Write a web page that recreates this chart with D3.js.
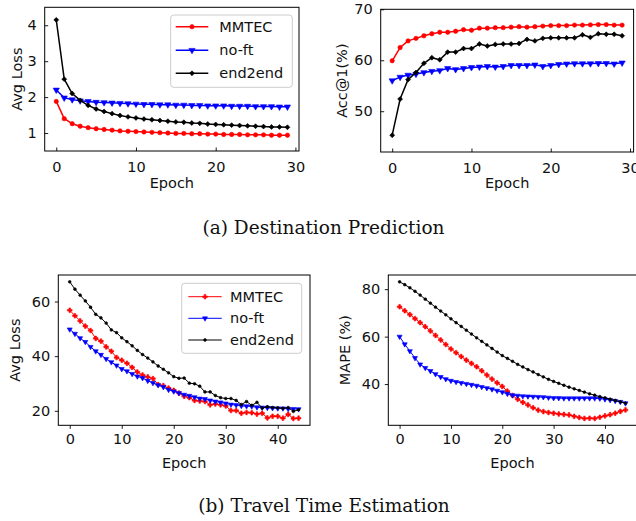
<!DOCTYPE html>
<html>
<head>
<meta charset="utf-8">
<script src="https://cdn.jsdelivr.net/npm/d3@7"></script>
<style>
  body { margin: 0; background: #fff; }
  svg { display: block; font-family: "DejaVu Sans", sans-serif; }
  .caption { font-family: "DejaVu Serif", serif; }
</style>
</head>
<body>
<svg id="chart" width="636" height="521"></svg>
<script>
// ---- data ----
const seriesNames = [ 'MMTEC', 'no-ft', 'end2end' ]

const destLossMMTEC = [1.88,1.40,1.26,1.19,1.15,1.12,1.10,1.08,1.06,1.05,1.04,1.03,1.02,1.01,1.00,0.99,0.99,0.98,0.98,0.97,0.97,0.96,0.96,0.96,0.95,0.95,0.95,0.94,0.94,0.94]
const destLossNoFt  = [2.20,1.98,1.93,1.90,1.88,1.86,1.85,1.84,1.83,1.82,1.81,1.80,1.80,1.79,1.79,1.78,1.78,1.77,1.77,1.76,1.76,1.76,1.75,1.75,1.75,1.74,1.74,1.74,1.73,1.73]
const destLossE2E   = [4.15,2.50,2.10,1.91,1.77,1.67,1.60,1.54,1.49,1.45,1.42,1.39,1.37,1.35,1.33,1.31,1.30,1.28,1.27,1.25,1.24,1.23,1.22,1.21,1.20,1.19,1.18,1.17,1.17,1.16]

const destAccMMTEC = [59.9,62.5,63.8,64.3,64.8,65.2,65.5,65.5,65.7,66.0,65.9,66.3,66.3,66.4,66.4,66.5,66.6,66.5,66.6,66.7,66.8,66.8,66.8,66.9,66.9,66.95,67.0,67.0,66.9,66.9]
const destAccNoFt  = [56.0,56.7,57.1,57.3,57.6,57.85,58.0,58.4,58.2,58.4,58.6,58.7,58.8,58.7,58.8,59.0,59.0,59.0,59.1,58.8,59.0,59.2,59.3,59.35,59.35,59.35,59.4,59.4,59.3,59.5]
const destAccE2E   = [45.3,52.4,56.2,57.6,59.4,60.5,60.1,61.6,61.6,62.3,62.3,63.2,62.8,63.1,63.2,63.2,63.3,64.1,63.8,64.3,64.4,64.4,64.4,64.4,65.0,64.5,65.2,65.1,65.1,64.8]

const tteLossMMTEC = [56.8,54.8,52.9,51.0,49.4,46.5,45.5,43.4,41.8,39.5,38.5,37.4,35.9,34.2,33.1,32.4,31.8,29.6,29.2,28.3,27.5,26.5,25.3,24.8,23.8,23.6,23.4,22.2,22.5,22.2,21.8,20.1,20.1,19.1,19.4,19.3,18.8,19.1,17.4,18.0,18.0,17.3,18.7,17.2,17.3]
const tteLossNoFt  = [49.8,48.2,46.6,45.2,43.4,41.8,40.5,39.0,37.8,36.6,35.3,34.5,33.5,32.6,32.0,31.0,30.2,29.4,28.7,27.7,27.1,26.5,25.9,25.5,25.0,24.5,24.3,23.8,23.4,23.1,22.7,22.3,22.1,21.8,21.7,21.6,21.3,21.2,21.1,21.0,20.9,20.9,20.7,20.7,20.6]
const tteLossE2E   = [67.2,64.5,62.3,60.2,57.9,55.3,54.0,52.1,49.6,48.6,46.7,45.3,43.8,42.1,40.6,39.3,37.9,36.4,35.2,33.9,32.5,31.9,32.0,30.1,29.9,29.0,26.9,26.9,25.6,24.8,24.5,24.5,23.8,22.3,23.4,22.0,23.1,21.0,21.5,21.2,21.1,20.9,21.2,19.8,20.4]

const tteMapeMMTEC = [72.6,70.9,69.3,67.6,65.9,64.2,62.4,60.5,58.6,56.7,54.8,53.2,51.6,50.1,48.7,47.3,45.6,43.8,42.1,40.5,39.0,37.0,35.2,33.6,32.3,31.2,30.0,29.0,28.4,28.0,27.7,27.4,27.2,27.0,26.4,25.9,25.5,25.6,25.5,26.0,26.6,27.1,27.7,28.5,29.1]
const tteMapeNoFt  = [60.0,56.8,53.9,51.0,48.3,46.8,45.5,44.2,43.0,42.1,41.4,40.9,40.5,40.1,39.7,39.3,38.8,38.3,37.8,37.2,36.6,35.9,35.3,35.1,34.9,34.8,34.7,34.6,34.5,34.3,34.1,34.1,34.0,34.0,34.0,34.0,34.0,34.0,34.0,33.9,33.6,33.3,32.9,32.5,31.9]
const tteMapeE2E   = [83.1,81.9,80.6,79.1,77.5,75.8,74.1,72.4,70.8,69.2,67.5,65.9,64.3,62.7,61.1,59.5,58.0,56.5,55.0,53.5,52.0,50.8,49.6,48.3,47.2,46.1,45.1,44.0,43.0,42.0,41.1,40.3,39.5,38.7,38.0,37.3,36.6,35.9,35.3,34.7,34.2,33.6,33.1,32.5,32.0]

const destXTicks = [0, 10, 20, 30]
const tteXTicks = [0, 10, 20, 30, 40]

const colors = [ '#ff0000', '#0000ff', '#000000' ]

// ---- drawing ----
const svg = d3.select('#chart')
const fontSize = 14.5

const markerStyles = {
    top: [
        { type: d3.symbolCircle, size: 15, rotate: 0 },
        { type: d3.symbolTriangle, size: 17, rotate: 180 },
        { type: d3.symbolSquare, size: 12, rotate: 45 }
    ],
    bottom: [
        { type: d3.symbolCross, size: 12, rotate: 0 },
        { type: d3.symbolTriangle, size: 11, rotate: 180 },
        { type: d3.symbolCircle, size: 6, rotate: 0 }
    ]
}

function padDomain( arrays ) {
    const lo = d3.min( arrays, a => d3.min( a ) ),
          hi = d3.max( arrays, a => d3.max( a ) ),
          m = ( hi - lo ) * 0.05
    return [ lo - m, hi + m ]
}

function drawPanel( opts ) {
    const { box, series, xDomain, yDomain, xTicks, yTicks, tickIn, ylabel, legend, style, lineWidth } = opts

    const x = d3.scaleLinear().domain( xDomain ).range( [ box.left, box.right ] ),
          y = d3.scaleLinear().domain( yDomain ).range( [ box.bottom, box.top ] )

    const g = svg.append( 'g' )
    const clipId = 'clip' + Math.round( box.left ) + Math.round( box.top )
    g.append( 'clipPath' ).attr( 'id', clipId )
        .append( 'rect' )
        .attr( 'x', box.left ).attr( 'y', box.top )
        .attr( 'width', box.right - box.left ).attr( 'height', box.bottom - box.top )

    const plot = g.append( 'g' ).attr( 'clip-path', `url(#${clipId})` )
    const line = d3.line().x( ( d, i ) => x( i ) ).y( d => y( d ) )

    series.forEach( ( values, k ) => {
        plot.append( 'path' )
            .attr( 'd', line( values ) )
            .attr( 'fill', 'none' )
            .attr( 'stroke', colors[k] )
            .attr( 'stroke-width', lineWidth )
            .attr( 'stroke-linejoin', 'round' )

        const m = markerStyles[ style ][ k ]
        plot.selectAll( null )
            .data( values )
            .enter().append( 'path' )
            .attr( 'd', d3.symbol().type( m.type ).size( m.size ) )
            .attr( 'transform', ( d, i ) => `translate(${x( i )},${y( d )}) rotate(${m.rotate})` )
            .attr( 'fill', colors[k] )
            .attr( 'stroke', colors[k] )
            .attr( 'stroke-width', 0.6 )
    } )

    // axes
    const tickLen = tickIn ? -3.5 : 3.5
    const xAxis = d3.axisBottom( x ).tickValues( xTicks ).tickFormat( d3.format( 'd' ) ).tickSizeInner( tickLen ).tickSizeOuter( 0 ).tickPadding( tickIn ? 11 : 4.5 )
    const yAxis = d3.axisLeft( y ).tickValues( yTicks ).tickFormat( d3.format( 'd' ) ).tickSizeInner( tickLen ).tickSizeOuter( 0 ).tickPadding( tickIn ? 8 : 4.5 )

    const gx = g.append( 'g' ).attr( 'transform', `translate(0,${box.bottom})` ).call( xAxis )
    const gy = g.append( 'g' ).attr( 'transform', `translate(${box.left},0)` ).call( yAxis )
    ;[ gx, gy ].forEach( a => {
        a.select( '.domain' ).remove()
        a.selectAll( 'text' ).attr( 'font-size', fontSize ).attr( 'font-family', '"DejaVu Sans", sans-serif' ).attr( 'fill', '#111' )
        a.selectAll( 'line' ).attr( 'stroke', '#000' ).attr( 'stroke-width', 0.9 )
    } )

    g.append( 'rect' )
        .attr( 'x', box.left ).attr( 'y', box.top )
        .attr( 'width', box.right - box.left ).attr( 'height', box.bottom - box.top )
        .attr( 'fill', 'none' ).attr( 'stroke', '#000' ).attr( 'stroke-width', 1 )

    // labels
    g.append( 'text' )
        .attr( 'x', ( box.left + box.right ) / 2 )
        .attr( 'y', box.xLabelY )
        .attr( 'text-anchor', 'middle' )
        .attr( 'font-size', fontSize ).attr( 'fill', '#111' )
        .text( 'Epoch' )

    g.append( 'text' )
        .attr( 'transform', `translate(${box.yLabelX},${( box.top + box.bottom ) / 2}) rotate(-90)` )
        .attr( 'text-anchor', 'middle' )
        .attr( 'dominant-baseline', 'central' )
        .attr( 'font-size', fontSize ).attr( 'fill', '#111' )
        .text( ylabel )

    if( legend ) {
        const lg = g.append( 'g' )
        lg.append( 'rect' )
            .attr( 'x', legend.left ).attr( 'y', legend.top )
            .attr( 'width', legend.width ).attr( 'height', legend.height )
            .attr( 'rx', 3 )
            .attr( 'fill', '#fff' ).attr( 'fill-opacity', 0.8 )
            .attr( 'stroke', '#cccccc' ).attr( 'stroke-width', 1 )

        seriesNames.forEach( ( name, k ) => {
            const ly = legend.rows[k],
                  x0 = legend.lineX[0], x1 = legend.lineX[1]
            lg.append( 'line' )
                .attr( 'x1', x0 ).attr( 'x2', x1 ).attr( 'y1', ly ).attr( 'y2', ly )
                .attr( 'stroke', colors[k] ).attr( 'stroke-width', lineWidth )
            const m = markerStyles[ style ][ k ]
            lg.append( 'path' )
                .attr( 'd', d3.symbol().type( m.type ).size( m.size ) )
                .attr( 'transform', `translate(${( x0 + x1 ) / 2},${ly}) rotate(${m.rotate})` )
                .attr( 'fill', colors[k] ).attr( 'stroke', colors[k] ).attr( 'stroke-width', 0.6 )
            lg.append( 'text' )
                .attr( 'x', legend.textX ).attr( 'y', ly )
                .attr( 'dominant-baseline', 'central' )
                .attr( 'font-size', fontSize ).attr( 'fill', '#111' )
                .text( name )
        } )
    }
}

// (a) destination prediction
drawPanel( {
    box: { left: 44.7, right: 299, top: 7.3, bottom: 151, xLabelY: 188, yLabelX: 16.5 },
    series: [ destLossMMTEC, destLossNoFt, destLossE2E ],
    xDomain: [ -1.45, 30.45 ], yDomain: [ 0.5, 4.5 ],
    xTicks: destXTicks, yTicks: [ 1, 2, 3, 4 ],
    tickIn: true, ylabel: 'Avg Loss', style: 'top', lineWidth: 1.5,
    legend: { left: 170.7, top: 15, width: 121.6, height: 72.3, rows: [ 26.7, 50.2, 73.3 ], lineX: [ 175.7, 208.3 ], textX: 219.3 }
} )

drawPanel( {
    box: { left: 380.7, right: 633.6, top: 9.3, bottom: 152, xLabelY: 188, yLabelX: 341.7 },
    series: [ destAccMMTEC, destAccNoFt, destAccE2E ],
    xDomain: [ -1.45, 30.45 ], yDomain: [ 42, 70 ],
    xTicks: destXTicks, yTicks: [ 50, 60, 70 ],
    tickIn: true, ylabel: 'Acc@1(%)', style: 'top', lineWidth: 1.5
} )

// (b) travel time estimation
drawPanel( {
    box: { left: 58.3, right: 310, top: 275, bottom: 425.3, xLabelY: 468, yLabelX: 14.5 },
    series: [ tteLossMMTEC, tteLossNoFt, tteLossE2E ],
    xDomain: [ -2.2, 46.2 ], yDomain: padDomain( [ tteLossMMTEC, tteLossNoFt, tteLossE2E ] ),
    xTicks: tteXTicks, yTicks: [ 20, 40, 60 ],
    tickIn: false, ylabel: 'Avg Loss', style: 'bottom', lineWidth: 1,
    legend: { left: 181.7, top: 283.3, width: 120, height: 70, rows: [ 296.7, 318.3, 340 ], lineX: [ 188.3, 221.7 ], textX: 230 }
} )

drawPanel( {
    box: { left: 388.3, right: 636.8, top: 275, bottom: 425.3, xLabelY: 468, yLabelX: 345 },
    series: [ tteMapeMMTEC, tteMapeNoFt, tteMapeE2E ],
    xDomain: [ -2.2, 46.2 ], yDomain: padDomain( [ tteMapeMMTEC, tteMapeNoFt, tteMapeE2E ] ),
    xTicks: tteXTicks, yTicks: [ 40, 60, 80 ],
    tickIn: false, ylabel: 'MAPE (%)', style: 'bottom', lineWidth: 1
} )

// captions
svg.append( 'text' ).attr( 'class', 'caption' )
    .attr( 'x', 323.5 ).attr( 'y', 234 )
    .attr( 'text-anchor', 'middle' ).attr( 'font-size', 18.5 ).attr( 'fill', '#111' )
    .text( '(a)  Destination Prediction' )

svg.append( 'text' ).attr( 'class', 'caption' )
    .attr( 'x', 324 ).attr( 'y', 512 )
    .attr( 'text-anchor', 'middle' ).attr( 'font-size', 18.5 ).attr( 'fill', '#111' )
    .text( '(b)  Travel Time Estimation' )
</script>
</body>
</html>
